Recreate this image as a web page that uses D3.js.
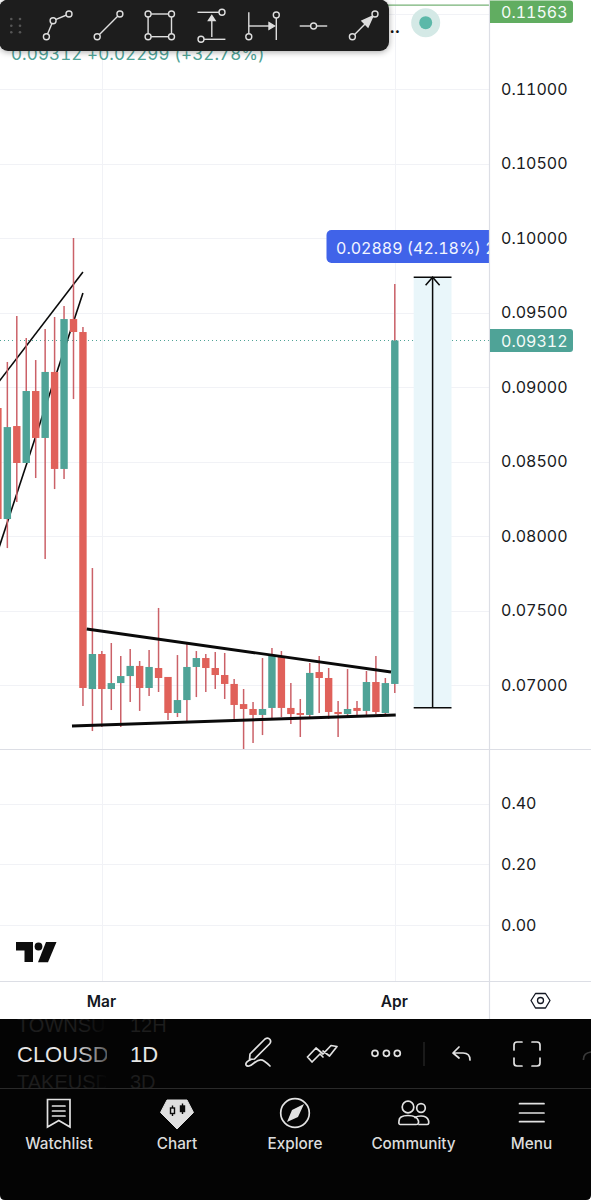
<!DOCTYPE html>
<html>
<head>
<meta charset="utf-8">
<script src="https://cdn.jsdelivr.net/npm/d3@7"></script>
<style>
html,body{margin:0;padding:0;background:#fff;}
svg{display:block;font-family:Inter,"Noto Sans",sans-serif;}
.tn{font-variant-numeric:tabular-nums;font-feature-settings:"tnum" 1;}
</style>
</head>
<body>
<svg id="c" width="591" height="1200"></svg>
<script>
// ---- data ----
const opens  = [0.08859,0.08114,0.08738,0.08490,0.08973,0.08658,0.09101,0.08450,0.09456,0.09369,0.06973,0.07208,0.06973,0.07013,0.07060,0.07128,0.06980,0.07114,0.07054,0.06812,0.06899,0.07121,0.07181,0.07114,0.07067,0.07007,0.06872,0.06839,0.06799,0.06846,0.07195,0.06846,0.06812,0.06799,0.07087,0.07047,0.06819,0.06805,0.06846,0.06826,0.07020,0.06812,0.07007];
const highs  = [0.08859,0.09168,0.09476,0.09329,0.09181,0.09389,0.09470,0.09543,0.10000,0.09403,0.07785,0.07228,0.07282,0.07195,0.07242,0.07161,0.07235,0.07517,0.07054,0.07201,0.07289,0.07228,0.07208,0.07221,0.07215,0.07040,0.06973,0.06886,0.07181,0.07248,0.07228,0.07013,0.06906,0.07148,0.07195,0.07114,0.06893,0.07107,0.06893,0.07094,0.07195,0.07047,0.09691];
const lows   = [0.08114,0.07919,0.08228,0.08490,0.08389,0.07846,0.08315,0.08382,0.08919,0.06859,0.06691,0.06718,0.06832,0.06718,0.06886,0.06826,0.06926,0.06953,0.06765,0.06785,0.06745,0.06919,0.06953,0.06973,0.06906,0.06772,0.06570,0.06611,0.06664,0.06765,0.06785,0.06738,0.06651,0.06779,0.06812,0.06772,0.06651,0.06785,0.06785,0.06792,0.06805,0.06805,0.06946];
const closes = [0.08114,0.08731,0.08490,0.08973,0.08658,0.09101,0.08450,0.09456,0.09369,0.06980,0.07208,0.06973,0.07013,0.07060,0.07128,0.06980,0.07121,0.07047,0.06812,0.06899,0.07121,0.07181,0.07114,0.07067,0.07007,0.06866,0.06839,0.06799,0.06839,0.07195,0.06846,0.06805,0.06799,0.07081,0.07047,0.06819,0.06805,0.06839,0.06826,0.07020,0.06819,0.07013,0.09312];
const priceTicks = [0.11,0.105,0.10,0.095,0.09,0.085,0.08,0.075,0.07];
const priceGrid  = [0.115,0.11,0.105,0.10,0.095,0.09,0.085,0.08,0.075,0.07];
const indicatorTicks = [0.4,0.2,0];
const monthBars   = [11,42];
const monthLabels = ["Mar","Apr"];
const lastPrice = 0.09312, highPrice = 0.11563;
const channelA = [[0,0.09027],[9,0.09772]];
const channelB = [[0,0.07899],[9,0.09631]];
const wedgeTop = [[9.4,0.07376],[41.6,0.07087]];
const wedgeBot = [[7.84,0.06725],[42.1,0.06799]];
const measure = {from:44,to:48,mid:46,low:0.06848,high:0.09737};
const navLabels = ["Watchlist","Chart","Explore","Community","Menu"];

// ---- scales ----
const x = d3.scaleLinear().domain([0,42]).range([-2.1,394.8]);
const y = d3.scaleLinear().domain([0.07,0.11]).range([685,89]);
const yInd = d3.scaleLinear().domain([0,0.4]).range([925,803.5]);

const UP="#4fa397", DOWN="#e0615a", WICK="#cb6168", GRID="#f1f2f6", BORDER="#dcdee5";
const svg=d3.select("#c");
svg.append("rect").attr("width",591).attr("height",1200).attr("fill","#fff");
const defs=svg.append("defs");
defs.append("clipPath").attr("id","pane").append("rect").attr("x",0).attr("y",0).attr("width",489).attr("height",749);
defs.append("clipPath").attr("id","bl").append("rect").attr("x",0).attr("y",0).attr("width",489).attr("height",400);
defs.append("clipPath").attr("id","ghost").append("rect").attr("x",0).attr("y",1019).attr("width",106).attr("height",69);
defs.append("clipPath").attr("id","ghost2").append("rect").attr("x",120).attr("y",1019).attr("width",100).attr("height",69);
const fade=defs.append("linearGradient").attr("id","fade").attr("gradientUnits","userSpaceOnUse").attr("x1",17).attr("x2",108).attr("y1",0).attr("y2",0);
fade.append("stop").attr("offset","0.62").attr("stop-color","#e6e6e6");
fade.append("stop").attr("offset","1").attr("stop-color","#555");
const fade2=defs.append("linearGradient").attr("id","fade2").attr("gradientUnits","userSpaceOnUse").attr("x1",17).attr("x2",106).attr("y1",0).attr("y2",0);
fade2.append("stop").attr("offset","0.75").attr("stop-color","#1d1d1d");
fade2.append("stop").attr("offset","1").attr("stop-color","#070707");

// grid
const grid=svg.append("g").attr("stroke",GRID).attr("stroke-width",1);
priceGrid.forEach(p=>grid.append("line").attr("x1",0).attr("x2",489).attr("y1",Math.round(y(p))+.5).attr("y2",Math.round(y(p))+.5));
indicatorTicks.forEach(p=>grid.append("line").attr("x1",0).attr("x2",489).attr("y1",Math.round(yInd(p))+.5).attr("y2",Math.round(yInd(p))+.5));
monthBars.forEach(b=>grid.append("line").attr("x1",Math.round(x(b))+.5).attr("x2",Math.round(x(b))+.5).attr("y1",0).attr("y2",981));

// subtitle behind toolbar
svg.append("text").attr("class","tn").attr("x",11).attr("y",60).attr("font-size",17).attr("letter-spacing",0.1).attr("fill",UP).text("0.09312 +0.02299 (+32.78%)");

// last price dotted line + high price line
svg.append("line").attr("x1",0).attr("x2",489).attr("y1",y(lastPrice)).attr("y2",y(lastPrice)).attr("stroke",UP).attr("stroke-width",1).attr("stroke-dasharray","1 3");
svg.append("line").attr("x1",380).attr("x2",489).attr("y1",y(highPrice)).attr("y2",y(highPrice)).attr("stroke","#76b276").attr("stroke-width",1.2);

// live dot
svg.append("circle").attr("cx",425.7).attr("cy",22.7).attr("r",14.5).attr("fill","#d4e9e6");
svg.append("circle").attr("cx",425.7).attr("cy",22.7).attr("r",6.5).attr("fill","#5cb8a9");
svg.append("text").attr("x",389.5).attr("y",33).attr("font-size",16).attr("font-weight",700).attr("fill","#111").text("..");

const pane=svg.append("g").attr("clip-path","url(#pane)");
const seg=(g,pts,w)=>g.append("line").attr("x1",x(pts[0][0])).attr("y1",y(pts[0][1])).attr("x2",x(pts[1][0])).attr("y2",y(pts[1][1])).attr("stroke","#0a0a0a").attr("stroke-width",w);

// measure fill
pane.append("rect").attr("x",x(measure.from)).attr("width",x(measure.to)-x(measure.from)).attr("y",y(measure.high)).attr("height",y(measure.low)-y(measure.high)).attr("fill","#e9f6fa");

// channel (under candles)
seg(pane,channelA,1.6); seg(pane,channelB,1.6);

// candles
const bars=d3.range(opens.length);
pane.append("g").selectAll("line").data(bars.slice(1)).join("line")
 .attr("x1",i=>x(i)).attr("x2",i=>x(i)).attr("y1",i=>y(highs[i])).attr("y2",i=>y(lows[i]))
 .attr("stroke",WICK).attr("stroke-width",1.5);
pane.append("g").selectAll("rect").data(bars).join("rect")
 .attr("x",i=>x(i)-3.7).attr("width",7.4)
 .attr("y",i=>y(Math.max(opens[i],closes[i])))
 .attr("height",i=>Math.max(1.5,Math.abs(y(opens[i])-y(closes[i]))))
 .attr("fill",i=>closes[i]>=opens[i]?UP:DOWN);

// wedge (over candles)
seg(pane,wedgeTop,2.9); seg(pane,wedgeBot,2.9);

// measure arrow
const mk=pane.append("g").attr("stroke","#0a0a0a").attr("stroke-width",1.5).attr("fill","none");
[measure.high,measure.low].forEach(p=>mk.append("line").attr("x1",x(measure.from)).attr("x2",x(measure.to)).attr("y1",y(p)).attr("y2",y(p)));
mk.append("line").attr("x1",x(measure.mid)).attr("x2",x(measure.mid)).attr("y1",y(measure.high)).attr("y2",y(measure.low));
mk.append("path").attr("d",d3.line()([[x(measure.mid)-7,y(measure.high)+8],[x(measure.mid),y(measure.high)],[x(measure.mid)+7,y(measure.high)+8]]));

// measure label
const lab=svg.append("g").attr("clip-path","url(#bl)");
lab.append("rect").attr("x",326.5).attr("y",230).attr("width",190).attr("height",33).attr("rx",5).attr("fill","#4063e9");
lab.append("text").attr("class","tn").attr("x",336).attr("y",253.5).attr("font-size",16).attr("fill","#f2f5ff").text("0.02889 (42.18%) 2");

// frame lines
const fr=svg.append("g").attr("stroke",BORDER).attr("stroke-width",1.2);
fr.append("line").attr("x1",489.5).attr("x2",489.5).attr("y1",0).attr("y2",1019);
fr.append("line").attr("x1",0).attr("x2",591).attr("y1",749.5).attr("y2",749.5);
fr.append("line").attr("x1",0).attr("x2",591).attr("y1",981.5).attr("y2",981.5);

// axes
const styleAxis=g=>{g.select(".domain").remove();g.selectAll("text").attr("class","tn").attr("fill","#191b22").attr("font-size",16).attr("font-family","Inter");};
svg.append("g").attr("transform","translate(490,0)").call(d3.axisRight(y).tickValues(priceTicks).tickSize(0).tickPadding(11).tickFormat(d3.format(".5f"))).call(styleAxis);
svg.append("g").attr("transform","translate(490,0)").call(d3.axisRight(yInd).tickValues(indicatorTicks).tickSize(0).tickPadding(11).tickFormat(d3.format(".2f"))).call(styleAxis);
svg.append("g").attr("transform","translate(-1,996)").call(d3.axisBottom(x).tickValues(monthBars).tickSize(0).tickPadding(0).tickFormat((d,i)=>monthLabels[i])).call(g=>{g.select(".domain").remove();g.selectAll("text").attr("fill","#131722").attr("font-size",15.5).attr("font-weight",600).attr("font-family","Inter");});

// price labels
const tag=(yy,h,col,txt,ty)=>{svg.append("path").attr("d",`M490 ${yy}H570q3 0 3 3V${yy+h-3}q0 3-3 3H490Z`).attr("fill",col);
 svg.append("text").attr("class","tn").attr("x",501).attr("y",ty).attr("font-size",16).attr("fill","#f4fbf8").text(txt);};
tag(0.5,22.5,"#61ad61",d3.format(".5f")(highPrice),17.5);
tag(329,23,UP,d3.format(".5f")(lastPrice),346.5);

// settings hex
svg.append("path").attr("d","M531 1000.5L535.5 993.5H545.5L550 1000.5L545.5 1008H535.5Z").attr("fill","none").attr("stroke","#131722").attr("stroke-width",1.3).attr("stroke-linejoin","round");
svg.append("circle").attr("cx",540.5).attr("cy",1000.5).attr("r",3).attr("fill","none").attr("stroke","#131722").attr("stroke-width",1.3);

// TV logo
svg.append("path").attr("fill","#0d0d0d").attr("d","M16 942H33V962H24.5V950.5H16Z");
svg.append("circle").attr("cx",38.5).attr("cy",946.5).attr("r",3.9).attr("fill","#0d0d0d");
svg.append("path").attr("fill","#0d0d0d").attr("d","M46 942H56.5L48 962.3H38Z");

// drawing toolbar
svg.append("rect").attr("x",-1).attr("y",-0.5).attr("width",390).attr("height",51.5).attr("rx",9).attr("fill","#1d1d1d").style("filter","drop-shadow(0 1px 3px rgba(0,0,0,.35))");
const tb=svg.append("g").attr("fill","none").attr("stroke","#dedede").attr("stroke-width",1.4);
const L=(a,b,c,d)=>tb.append("line").attr("x1",a).attr("y1",b).attr("x2",c).attr("y2",d);
const C=(a,b)=>tb.append("circle").attr("cx",a).attr("cy",b).attr("r",3).attr("fill","#1d1d1d");
[11.3,20].forEach(a=>[19,25.7,32.3].forEach(b=>svg.append("circle").attr("cx",a).attr("cy",b).attr("r",1.3).attr("fill","#565656")));
L(46.4,36.7,53.1,20.7);L(53.1,20.7,69,14);C(46.4,36.7);C(53.1,20.7);C(69,14);
L(97.2,36.7,119.9,14);C(97.2,36.7);C(119.9,14);
tb.append("rect").attr("x",148.1).attr("y",14).attr("width",23.4).attr("height",22.7);
[[148.1,14],[171.5,14],[148.1,36.7],[171.5,36.7]].forEach(p=>C(p[0],p[1]));
L(197.5,12.3,222,12.3);C(222,12.3);L(211.8,37,211.8,18);L(201,39.3,225.4,39.3);C(201,39.3);
tb.append("path").attr("d","M208.5 20.5L211.8 15.5L215.1 20.5Z").attr("fill","#dedede");
L(248.8,12.3,248.8,34);C(248.8,36.7);L(276.3,18,276.3,40);C(276.3,15);L(249,26,272,26);
tb.append("path").attr("d","M269 22.7L274.5 26L269 29.3Z").attr("fill","#dedede");
L(299.7,26,327.2,26);C(313.6,26);
L(352.4,36.7,375,14);C(352.4,36.7);
tb.append("path").attr("d","M362 21L373 16L368 27Z").attr("fill","#dedede");C(375,14);

// bottom black bar
svg.append("path").attr("d","M0 1019H591V1195q0 5-5 5H5q-5 0-5-5Z").attr("fill","#040404");
const gh=svg.append("g").attr("clip-path","url(#ghost)").attr("font-family","'Liberation Sans'").attr("font-size",20);
gh.append("text").attr("x",17).attr("y",1032).attr("fill","url(#fade2)").text("TOWNSUSD");
gh.append("text").attr("x",17).attr("y",1089).attr("fill","url(#fade2)").text("TAKEUSDT");
const gh2=svg.append("g").attr("clip-path","url(#ghost2)").attr("font-family","'Liberation Sans'").attr("font-size",20);
gh2.append("text").attr("x",130).attr("y",1032).attr("fill","#1d1d1d").text("12H");
gh2.append("text").attr("x",130).attr("y",1089).attr("fill","#1d1d1d").text("3D");
defs.append("clipPath").attr("id","sym").append("rect").attr("x",0).attr("y",1030).attr("width",107).attr("height",50);
svg.append("g").attr("clip-path","url(#sym)").append("text").attr("x",17).attr("y",1062).attr("font-family","'Liberation Sans'").attr("font-size",22).attr("fill","url(#fade)").text("CLOUSD");
svg.append("text").attr("x",130).attr("y",1062).attr("font-family","'Liberation Sans'").attr("font-size",22).attr("fill","#e6e6e6").text("1D");
svg.append("line").attr("x1",0).attr("x2",591).attr("y1",1088.5).attr("y2",1088.5).attr("stroke","#2a2a2a");

const ic=svg.append("g").attr("fill","none").attr("stroke","#e2e2e2").attr("stroke-width",1.7).attr("stroke-linecap","round").attr("stroke-linejoin","round");
// pen
ic.append("path").attr("d","M250 1054L265 1039Q268 1037 270 1039.5Q271.5 1042 269.5 1044L254.5 1059L249.5 1059.5Z");
ic.append("path").attr("d","M251 1059.5Q245 1062 246 1065Q248 1068 254 1063Q260 1058 264 1061Q267 1063 270 1066");
// zigzag
ic.append("path").attr("d","M307.5 1057L316 1048L323 1054L331 1045.5L337 1046.5L329.5 1056L323 1051M307.5 1057L312 1062L320 1054L323 1057");
// dots
[375,386.4,397.3].forEach(a=>ic.append("circle").attr("cx",a).attr("cy",1053.3).attr("r",3));
svg.append("line").attr("x1",424).attr("x2",424).attr("y1",1042).attr("y2",1066).attr("stroke","#2a2a2a").attr("stroke-width",1.2);
// undo
ic.append("path").attr("d","M459 1047L453 1053L459 1058M453 1053H463Q470 1053 470 1060");
// brackets
ic.append("path").attr("d","M514 1050V1045Q514 1042 517 1042H522M532 1042H537Q540 1042 540 1045V1050M540 1058V1063Q540 1066 537 1066H532M522 1066H517Q514 1066 514 1063V1058");
// redo ghost
svg.append("path").attr("d","M583.5 1060Q583 1053 591 1052").attr("fill","none").attr("stroke","#3a3a3a").attr("stroke-width",1.7);

// nav
const navX=[59,177,295,413.5,531.5];
svg.append("g").selectAll("text").data(navLabels).join("text").attr("x",(d,i)=>navX[i]).attr("y",1149).attr("text-anchor","middle").attr("font-size",15.3).attr("font-weight",500).attr("fill","#dcdcdc").text(d=>d);
// watchlist
ic.append("path").attr("d","M47.5 1099.5H70V1127L58.8 1120.5L47.5 1127Z").attr("stroke-linejoin","miter");
ic.append("path").attr("d","M52.5 1106H65M52.5 1111H65M52.5 1116H65");
// chart gem
svg.append("path").attr("d","M167 1100H187L193.5 1112.5L177 1129L160.5 1112.5Z").attr("fill","#dfdfdf").attr("stroke","#dfdfdf").attr("stroke-linejoin","round");
const gem=svg.append("g").attr("stroke","#0a0a0a").attr("stroke-width",1.4).attr("fill","none");
gem.append("path").attr("d","M172.5 1105.5V1116M182.5 1103.5V1114");
gem.append("rect").attr("x",170.5).attr("y",1108).attr("width",4).attr("height",5.5).attr("fill","#dfdfdf");
gem.append("rect").attr("x",180.5).attr("y",1106).attr("width",4).attr("height",5.5).attr("fill","#0a0a0a");
// explore
ic.append("circle").attr("cx",295).attr("cy",1113).attr("r",14.3);
svg.append("path").attr("d","M304 1104L298 1117L287 1122L292 1110Z").attr("fill","#e2e2e2");
// community
ic.append("circle").attr("cx",408).attr("cy",1107).attr("r",5.8);
ic.append("circle").attr("cx",421).attr("cy",1108).attr("r",4.3);
ic.append("path").attr("d","M400 1124.5H416Q419 1124.5 418.5 1121Q417 1115.5 408 1115.5Q399 1115.5 399 1121Q398.5 1124.5 400 1124.5Z");
ic.append("path").attr("d","M419 1124.5H427Q429.5 1124.5 428.5 1120.5Q427 1116 421 1116Q417 1116 415 1117.5");
// menu
ic.append("path").attr("d","M519.5 1103.7H544M519.5 1113H544M519.5 1121.7H544");
</script>
</body>
</html>
